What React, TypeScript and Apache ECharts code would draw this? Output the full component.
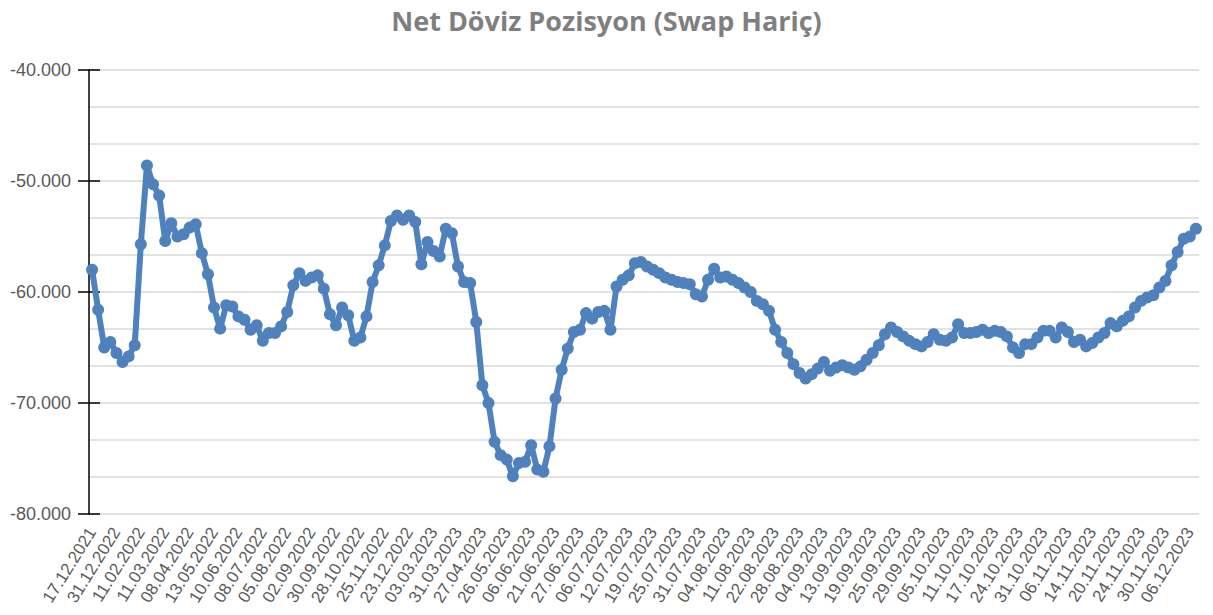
import React, { useEffect, useRef } from "react";
import * as echarts from "echarts";

const chartTitle = "Net Döviz Pozisyon (Swap Hariç)";

const tickLabels = [
  "17.12.2021", "31.12.2022", "11.02.2022", "11.03.2022", "08.04.2022", "13.05.2022",
  "10.06.2022", "08.07.2022", "05.08.2022", "02.09.2022", "30.09.2022", "28.10.2022",
  "25.11.2022", "23.12.2022", "03.03.2023", "31.03.2023", "27.04.2023", "26.05.2023",
  "06.06.2023", "21.06.2023", "27.06.2023", "06.07.2023", "12.07.2023", "19.07.2023",
  "25.07.2023", "31.07.2023", "04.08.2023", "11.08.2023", "22.08.2023", "28.08.2023",
  "04.09.2023", "13.09.2023", "19.09.2023", "25.09.2023", "29.09.2023", "05.10.2023",
  "11.10.2023", "17.10.2023", "24.10.2023", "31.10.2023", "06.11.2023", "14.11.2023",
  "20.11.2023", "24.11.2023", "30.11.2023", "06.12.2023",
];

const positionValues = [
  -58000, -61600, -65000, -64500, -65500, -66300, -65800, -64800, -55700, -48600,
  -50300, -51300, -55400, -53800, -55000, -54800, -54200, -53900, -56500, -58400,
  -61400, -63300, -61200, -61300, -62200, -62500, -63400, -63000, -64400, -63700,
  -63700, -63100, -61800, -59400, -58300, -59000, -58700, -58500, -59700, -62000,
  -63000, -61400, -62100, -64400, -64100, -62200, -59100, -57600, -55800, -53600,
  -53100, -53500, -53100, -53700, -57500, -55500, -56300, -56800, -54300, -54700,
  -57700, -59100, -59200, -62700, -68400, -70000, -73500, -74700, -75100, -76600,
  -75400, -75300, -73800, -76000, -76200, -73900, -69600, -67000, -65100, -63600,
  -63400, -61900, -62400, -61800, -61700, -63400, -59500, -58900, -58500, -57400,
  -57300, -57700, -58000, -58300, -58700, -58900, -59100, -59200, -59300, -60200,
  -60400, -58900, -57900, -58700, -58600, -58900, -59200, -59600, -60000, -60800,
  -61100, -61700, -63400, -64500, -65500, -66500, -67300, -67800, -67400, -66900,
  -66300, -67100, -66800, -66600, -66800, -67000, -66700, -66100, -65500, -64800,
  -63800, -63200, -63600, -64000, -64400, -64700, -64900, -64500, -63800, -64300,
  -64400, -64100, -62900, -63700, -63700, -63600, -63400, -63700, -63500, -63600,
  -64000, -65000, -65500, -64700, -64700, -64100, -63500, -63500, -64100, -63200,
  -63600, -64500, -64300, -64900, -64600, -64100, -63700, -62800, -63100, -62600,
  -62200, -61400, -60800, -60500, -60300, -59600, -59000, -57600, -56400, -55200,
  -55000, -54300,
];

const categories = positionValues.map((_, i) =>
  i % 4 === 0 && tickLabels[i / 4] !== undefined ? tickLabels[i / 4] : ""
);

const Y_MIN = -80000;
const Y_MAX = -40000;
const MAJOR = 10000;
const MINOR = 10000 / 3;

export default function App() {
  const ref = useRef<HTMLDivElement>(null);

  useEffect(() => {
    document.body.style.margin = "0";
    if (!ref.current) return;
    const chart = echarts.init(ref.current, undefined, { renderer: "svg" });
    const labelFont = "'Liberation Sans', Arial, sans-serif";
    chart.setOption({
      animation: false,
      backgroundColor: "#ffffff",
      title: {
        text: chartTitle,
        left: "center",
        top: 2,
        textStyle: {
          fontFamily: "'Open Sans', sans-serif",
          fontSize: 27,
          fontWeight: "bold",
          color: "#7f7f7f",
        },
      },
      grid: { left: 89, right: 14, top: 70, bottom: 101, containLabel: false },
      xAxis: {
        type: "category",
        data: categories,
        boundaryGap: true,
        axisLine: { show: false },
        axisTick: { show: false },
        splitLine: { show: false },
        axisLabel: {
          interval: 3,
          rotate: 58,
          margin: 15,
          fontSize: 17,
          fontFamily: labelFont,
          color: "#595959",
        },
      },
      yAxis: [
        {
          type: "value",
          min: Y_MIN,
          max: Y_MAX,
          interval: MINOR,
          position: "left",
          axisLine: { show: false },
          axisTick: { show: false },
          axisLabel: { show: false },
          splitLine: { show: true, lineStyle: { color: "#d9d9d9", width: 1.5 } },
        },
        {
          type: "value",
          min: Y_MIN,
          max: Y_MAX,
          interval: MAJOR,
          position: "left",
          axisLine: { show: true, onZero: false, lineStyle: { color: "#000000", width: 1.5 } },
          axisTick: { show: true, inside: false, length: 11, lineStyle: { color: "#000000", width: 1.5 } },
          splitLine: { show: false },
          axisLabel: {
            margin: 18,
            fontSize: 18,
            fontFamily: labelFont,
            color: "#595959",
            formatter: (v: number) => `${Math.round(v / 1000)}.000`,
          },
        },
        {
          type: "value",
          min: Y_MIN,
          max: Y_MAX,
          interval: MAJOR,
          position: "left",
          axisLine: { show: false },
          axisTick: { show: true, inside: true, length: 11, lineStyle: { color: "#000000", width: 1.5 } },
          splitLine: { show: false },
          axisLabel: { show: false },
        },
      ],
      series: [
        {
          type: "line",
          yAxisIndex: 0,
          data: positionValues,
          symbol: "circle",
          symbolSize: 12,
          showAllSymbol: true,
          lineStyle: { color: "#4f81bd", width: 6 },
          itemStyle: { color: "#4f81bd" },
          z: 5,
        },
      ],
    });
    return () => chart.dispose();
  }, []);

  return <div ref={ref} style={{ width: 1213, height: 615 }} />;
}
